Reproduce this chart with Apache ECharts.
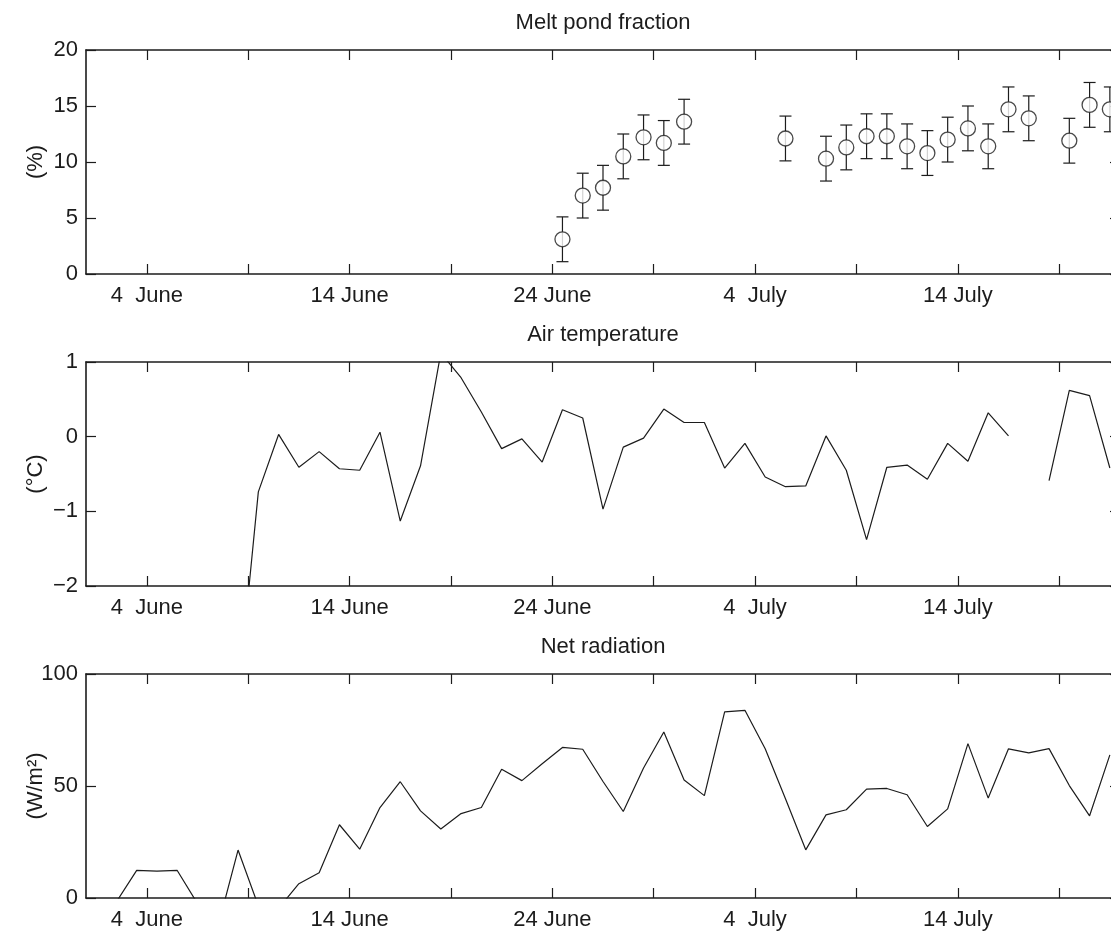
<!DOCTYPE html>
<html>
<head>
<meta charset="utf-8">
<script src="https://cdn.jsdelivr.net/npm/echarts@6/dist/echarts.min.js"></script>
<style>
html,body{margin:0;padding:0;background:#fff;overflow:hidden;width:1111px;height:931px;}
#chart{width:1122px;height:931px;}
</style>
</head>
<body>
<div id="chart"></div>
<script>
// x values are day numbers counted from 1 June (1 June = 1, 1 July = 31)
const xMin = 1;
const xMax = 52;
const xTickDays = [4, 9, 14, 19, 24, 29, 34, 39, 44, 49];
const xLabelDays = [4, 14, 24, 34, 44];
const xLabelTexts = ['4  June', '14 June', '24 June', '4  July', '14 July'];

// Panel 1: melt pond fraction (%), with error bars
const meltDays = [24.5, 25.5, 26.5, 27.5, 28.5, 29.5, 30.5, 35.5, 37.5, 38.5, 39.5, 40.5, 41.5, 42.5, 43.5, 44.5, 45.5, 46.5, 47.5, 49.5, 50.5, 51.5];
const meltPct  = [3.1, 7.0, 7.7, 10.5, 12.2, 11.7, 13.6, 12.1, 10.3, 11.3, 12.3, 12.3, 11.4, 10.8, 12.0, 13.0, 11.4, 14.7, 13.9, 11.9, 15.1, 14.7];
const meltErr  = [2, 2, 2, 2, 2, 2, 2, 2, 2, 2, 2, 2, 2, 2, 2, 2, 2, 2, 2, 2, 2, 2];

// Panel 2: air temperature (°C)
const tempDays = [8.5, 9.5, 10.5, 11.5, 12.5, 13.5, 14.5, 15.5, 16.5, 17.5, 18.5, 19.5, 20.5, 21.5, 22.5, 23.5, 24.5, 25.5, 26.5, 27.5, 28.5, 29.5, 30.5, 31.5, 32.5, 33.5, 34.5, 35.5, 36.5, 37.5, 38.5, 39.5, 40.5, 41.5, 42.5, 43.5, 44.5, 45.5, 46.5, 47.5, 48.5, 49.5, 50.5, 51.5];
const tempVals = [-3.5, -0.74, 0.03, -0.41, -0.20, -0.43, -0.45, 0.06, -1.13, -0.39, 1.12, 0.79, 0.33, -0.16, -0.03, -0.34, 0.36, 0.25, -0.97, -0.14, -0.02, 0.37, 0.19, 0.19, -0.42, -0.09, -0.54, -0.67, -0.66, 0.01, -0.45, -1.38, -0.41, -0.38, -0.57, -0.09, -0.33, 0.32, 0.01, null, -0.59, 0.62, 0.55, -0.42];

// Panel 3: net radiation (W/m²)
const radDays = [2.5, 3.5, 4.5, 5.5, 6.5, 7.5, 8.5, 9.5, 10.5, 11.5, 12.5, 13.5, 14.5, 15.5, 16.5, 17.5, 18.5, 19.5, 20.5, 21.5, 22.5, 23.5, 24.5, 25.5, 26.5, 27.5, 28.5, 29.5, 30.5, 31.5, 32.5, 33.5, 34.5, 35.5, 36.5, 37.5, 38.5, 39.5, 40.5, 41.5, 42.5, 43.5, 44.5, 45.5, 46.5, 47.5, 48.5, 49.5, 50.5, 51.5];
const radVals = [-1.7, 12.3, 12.0, 12.3, -2.5, -13, 21.4, -3.5, -4.6, 6.4, 11.3, 32.7, 21.8, 40.4, 51.9, 38.9, 30.8, 37.7, 40.4, 57.5, 52.4, 59.9, 67.2, 66.4, 52.0, 38.6, 58.0, 74.1, 52.7, 45.7, 83.1, 83.8, 66.6, 44.3, 21.5, 37.1, 39.4, 48.6, 48.9, 46.1, 31.9, 39.8, 68.9, 44.6, 66.6, 64.8, 66.7, 50.2, 36.7, 63.9];

const panelTitles = ['Melt pond fraction', 'Air temperature', 'Net radiation'];
const yNames = ['(%)', '(\u00B0C)', '(W/m\u00B2)'];
const yTicks = [
  {min: 0, max: 20, interval: 5},
  {min: -2, max: 1, interval: 1},
  {min: 0, max: 100, interval: 50}
];

const FONT = 'Liberation Sans, Arial, Helvetica, sans-serif';
const INK = '#1c1c1c';
const gridTops = [50, 362, 674];
const gridLeft = 86, gridWidth = 1034, gridHeight = 224;

const grids = gridTops.map(t => ({left: gridLeft, top: t, width: gridWidth, height: gridHeight, containLabel: false}));

const xAxes = [];
const yAxes = [];
for (let g = 0; g < 3; g++) {
  xAxes.push({
    type: 'value', gridIndex: g, position: 'bottom', min: xMin, max: xMax,
    axisLine: {show: true, onZero: false, lineStyle: {color: INK, width: 1.6}},
    axisTick: {show: true, inside: true, length: 10, customValues: xTickDays, lineStyle: {color: INK, width: 1.2}},
    axisLabel: {show: true, customValues: xLabelDays, margin: 11, fontSize: 22, fontFamily: FONT, color: INK,
      formatter: v => { const i = xLabelDays.indexOf(Math.round(v)); return i >= 0 ? xLabelTexts[i] : ''; }},
    splitLine: {show: false}
  });
  xAxes.push({
    type: 'value', gridIndex: g, position: 'top', min: xMin, max: xMax,
    axisLine: {show: true, onZero: false, lineStyle: {color: INK, width: 1.6}},
    axisTick: {show: true, inside: true, length: 10, customValues: xTickDays, lineStyle: {color: INK, width: 1.2}},
    axisLabel: {show: false},
    splitLine: {show: false}
  });
  const yt = yTicks[g];
  yAxes.push({
    type: 'value', gridIndex: g, position: 'left', min: yt.min, max: yt.max, interval: yt.interval,
    axisLine: {show: true, onZero: false, lineStyle: {color: INK, width: 1.6}},
    axisTick: {show: true, inside: true, length: 10, lineStyle: {color: INK, width: 1.2}},
    axisLabel: {show: true, margin: 8, fontSize: 22, fontFamily: FONT, color: INK,
      formatter: v => String(v).replace('-', '\u2212')},
    splitLine: {show: false}
  });
  yAxes.push({
    type: 'value', gridIndex: g, position: 'right', min: yt.min, max: yt.max, interval: yt.interval,
    axisLine: {show: true, onZero: false, lineStyle: {color: INK, width: 1.6}},
    axisTick: {show: true, inside: true, length: 10, lineStyle: {color: INK, width: 1.2}},
    axisLabel: {show: false},
    splitLine: {show: false}
  });
}

const graphics = [];
for (let g = 0; g < 3; g++) {
  graphics.push({
    type: 'text', x: gridLeft + gridWidth / 2, y: gridTops[g] - 27,
    style: {text: panelTitles[g], fontSize: 22, fontFamily: FONT, fill: INK, align: 'center', verticalAlign: 'middle'}
  });
  graphics.push({
    type: 'text', x: 36, y: gridTops[g] + gridHeight / 2, rotation: Math.PI / 2,
    style: {text: yNames[g], fontSize: 22, fontFamily: FONT, fill: INK, align: 'center', verticalAlign: 'middle'}
  });
}

const errData = meltDays.map((d, i) => [d, meltPct[i], meltErr[i]]);

const option = {
  animation: false,
  backgroundColor: '#fff',
  grid: grids,
  xAxis: xAxes,
  yAxis: yAxes,
  graphic: graphics,
  series: [
    {
      type: 'custom', xAxisIndex: 0, yAxisIndex: 0, z: 2,
      data: errData,
      encode: {x: 0, y: 1},
      renderItem: (params, api) => {
        const x = api.value(0), y = api.value(1), e = api.value(2);
        const top = api.coord([x, y + e]);
        const bot = api.coord([x, y - e]);
        const hw = 6;
        const st = {stroke: INK, lineWidth: 1.2};
        return {
          type: 'group',
          children: [
            {type: 'line', shape: {x1: top[0], y1: top[1], x2: bot[0], y2: bot[1]}, style: st},
            {type: 'line', shape: {x1: top[0] - hw, y1: top[1], x2: top[0] + hw, y2: top[1]}, style: st},
            {type: 'line', shape: {x1: bot[0] - hw, y1: bot[1], x2: bot[0] + hw, y2: bot[1]}, style: st}
          ]
        };
      }
    },
    {
      type: 'scatter', xAxisIndex: 0, yAxisIndex: 0, z: 3,
      symbol: 'circle', symbolSize: 15,
      itemStyle: {color: '#fff', borderColor: INK, borderWidth: 1.3},
      data: meltDays.map((d, i) => [d, meltPct[i]])
    },
    {
      type: 'line', xAxisIndex: 2, yAxisIndex: 2, showSymbol: false, connectNulls: false, clip: true,
      lineStyle: {color: INK, width: 1.2},
      data: tempDays.map((d, i) => [d, tempVals[i]])
    },
    {
      type: 'line', xAxisIndex: 4, yAxisIndex: 4, showSymbol: false, connectNulls: false, clip: true,
      lineStyle: {color: INK, width: 1.2},
      data: radDays.map((d, i) => [d, radVals[i]])
    }
  ]
};

const chart = echarts.init(document.getElementById('chart'), null, {renderer: 'canvas'});
chart.setOption(option);
</script>
</body>
</html>
